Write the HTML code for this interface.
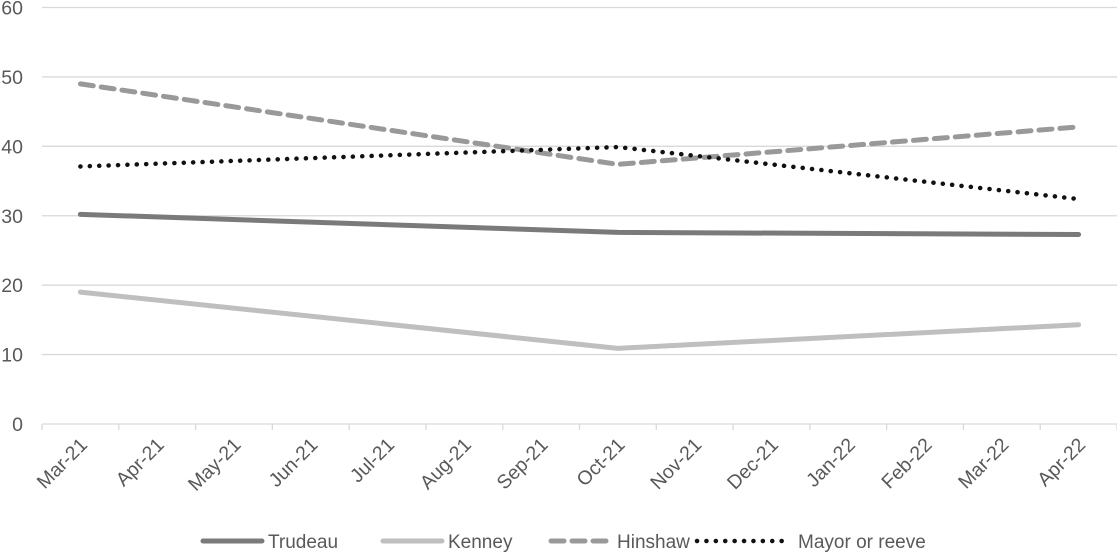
<!DOCTYPE html>
<html><head><meta charset="utf-8"><style>
body{margin:0;background:#fff;}
svg text{font-family:"Liberation Sans",sans-serif;fill:#595959;}
</style></head><body>
<svg id="chart" width="1117" height="552" xmlns="http://www.w3.org/2000/svg"></svg>
<script>
const categories=["Mar-21","Apr-21","May-21","Jun-21","Jul-21","Aug-21","Sep-21","Oct-21","Nov-21","Dec-21","Jan-22","Feb-22","Mar-22","Apr-22"];
const pointIdx=[0,7,13];
const trudeau=[30.2,27.6,27.3];
const kenney=[19.0,10.9,14.3];
const hinshaw=[49.0,37.4,42.8];
const mayor=[37.1,39.9,32.4];
const yTicks=[0,10,20,30,40,50,60];
const NS="http://www.w3.org/2000/svg";
const svg=document.getElementById('chart');
const L=42,R=1117,T=7.5,B=424;
const bw=(R-L)/categories.length;
const x=i=>L+bw*(i+0.5);
const y=v=>B-(v/60)*(B-T);
function mk(t,a){const e=document.createElementNS(NS,t);for(const k in a)e.setAttribute(k,a[k]);svg.appendChild(e);return e;}
yTicks.forEach(v=>{
 const g=mk('line',{x1:L,x2:R,y1:y(v),y2:y(v),stroke:'#d9d9d9','stroke-width':1.3});
 
 
 const t=mk('text',{x:23,y:y(v)+7,'text-anchor':'end','font-size':19.5});
 t.textContent=v;
 
 
});
for(let i=0;i<=categories.length;i++){
 const tk=mk('line',{x1:L+bw*i,x2:L+bw*i,y1:B,y2:B+6,stroke:'#d9d9d9','stroke-width':1.3});
 
 
}
categories.forEach((c,i)=>{
 const ax=x(i)+8, ay=B+22;
 const t=mk('text',{x:ax,y:ay,'text-anchor':'end','font-size':19.5,transform:`rotate(-45 ${ax} ${ay})`});
 t.textContent=c;
 
 
});
const series=[
 {name:'Trudeau',d:trudeau,stroke:'#7a7a7a',dash:'',cap:'round'},
 {name:'Kenney',d:kenney,stroke:'#bfbfbf',dash:'',cap:'round'},
 {name:'Hinshaw',d:hinshaw,stroke:'#999999',dash:'13 8',cap:'round'},
 {name:'Mayor or reeve',d:mayor,stroke:'#111111',dash:'0.1 9.3',cap:'round'}
];
series.forEach(s=>{
 const pts=s.d.map((v,k)=>x(pointIdx[k])+','+y(v)).join(' ');
 const p=mk('polyline',{points:pts,fill:'none',stroke:s.stroke,'stroke-width':s.name==='Mayor or reeve'?4.5:5,'stroke-dasharray':s.dash,'stroke-linecap':s.cap,'stroke-linejoin':'round'});
 
 
});
const leg=[[203,262,268],[383,442,448],[551,610,617],[697,790,798]];
series.forEach((s,i)=>{
 const [a,b,tx]=leg[i];
 const l=mk('line',{x1:a,x2:b,y1:541,y2:541,stroke:s.stroke,'stroke-width':s.name==='Mayor or reeve'?4.5:5,'stroke-dasharray':s.dash,'stroke-linecap':s.cap});
 
 
 const t=mk('text',{x:tx,y:548,'font-size':19});
 t.textContent=s.name;
 
 
});
</script>
</body></html>
